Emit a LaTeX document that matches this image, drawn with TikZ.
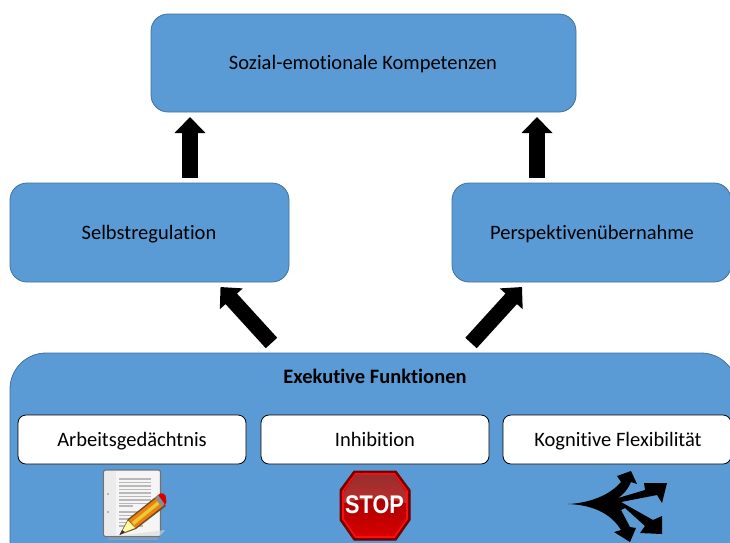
\documentclass[tikz,border=0pt]{standalone}
\usepackage{fontspec}
\setmainfont[RawFeature={-liga;-clig}]{Carlito}
\newfontfamily\stopfont{Liberation Sans}
\usetikzlibrary{arrows.meta,shapes.geometric}
\definecolor{boxblue}{HTML}{5B9BD5}
\definecolor{boxedge}{HTML}{41719C}
\tikzset{
  x=1pt,y=-1pt,
  bluebox/.style={draw=boxedge,fill=boxblue,line width=0.8pt,rounded corners=17pt},
  whitebox/.style={draw=black,fill=white,line width=0.8pt,rounded corners=8pt},
  lbl/.style={font=\fontsize{20.5}{24}\selectfont,text=black,inner sep=0pt,text height=13pt,text depth=4pt},
  blockarrow/.style={draw=black,line width=15.5pt,-{Triangle[width=30pt,length=16pt]},shorten >=0pt},
}
\begin{document}
\begin{tikzpicture}
\path[use as bounding box] (0,0) rectangle (730,542);
\clip (0,0) rectangle (730,542);
\fill[white] (0,0) rectangle (730,542);
% boxes
\draw[bluebox] (151,14) rectangle (576,112);
\draw[bluebox] (10,183) rectangle (289,282);
\draw[bluebox] (452,183) rectangle (731,282);
\draw[bluebox,rounded corners=36pt] (10,353) rectangle (737,580);
\draw[whitebox] (18,415) rectangle (246,464);
\draw[whitebox] (261,415) rectangle (489,464);
\draw[whitebox] (503,415) rectangle (731,464);
% labels
\node[lbl] (top) at (363,65.2) {Sozial-emotionale Kompetenzen};
\node[lbl] (selbst) at (149,235) {Selbstregulation};
\node[lbl] (persp) at (592,235) {Perspektivenübernahme};
\node[lbl,font=\fontsize{20.5}{24}\selectfont\bfseries] (exec) at (375,379.2) {Exekutive Funktionen};
\node[lbl] (arb) at (132,442) {Arbeitsgedächtnis};
\node[lbl] (inh) at (375,442) {Inhibition};
\node[lbl] (kog) at (618,442) {Kognitive Flexibilität};
% arrows
\coordinate (a1s) at (190,177.5); \coordinate (a1e) at (190,117);
\coordinate (a2s) at (537,177.5); \coordinate (a2e) at (537,117);
\coordinate (a3s) at (271.5,343); \coordinate (a3e) at (220.5,287);
\coordinate (a4s) at (471,343); \coordinate (a4e) at (522,287);
\draw[blockarrow] (a1s) -- (a1e);
\draw[blockarrow] (a2s) -- (a2e);
\draw[blockarrow] (a3s) -- (a3e);
\draw[blockarrow] (a4s) -- (a4e);
% document icon
\fill[black!35,opacity=.5] (108,537) rectangle (158,540);
\draw[draw=black!55,line width=1.2pt,fill=white!96!black,rounded corners=2pt] (103.5,470) rectangle (160.5,536.5);
\fill[black!8] (105,471) rectangle (116,535);
\fill[black!50] (108,494) circle (0.9pt) (108,512) circle (0.9pt);
\foreach \yy in {479,482.5,486,489.5,493,496.5,500,503.5}{\draw[black!28,line width=1.2pt] (119,\yy) -- (151,\yy);}
\draw[black!28,line width=1.2pt] (119,506) -- (133,506);
\foreach \yy in {512,515.5,519,522.5,526}{\draw[black!28,line width=1.2pt] (119,\yy) -- (143,\yy);}
% pencil
\fill[black!15,opacity=.6] (125,535) -- (165,530) -- (160,536) -- cycle;
\fill[brown!60!black] (119.5,535) -- (128,519) -- (158,495) -- (166,506) -- (136,529) -- cycle;
\fill[orange!70!brown] (129,520) -- (158,497) -- (164,505) -- (135,528) -- cycle;
\fill[yellow!60!brown] (132,522) -- (160,499.5) -- (162,502) -- (134,525) -- cycle;
\fill[yellow!35!white] (121,533.5) -- (128,520.5) -- (135,528) -- cycle;
\fill[black!80] (119.5,535) -- (122,530) -- (125,532) -- cycle;
\fill[red!85!black] (158,495) .. controls (161,491) and (167,494) .. (166,499) .. controls (167,502) and (166,505) .. (164,505) -- cycle;
\fill[black!45] (155,497.5) -- (158,495) -- (164.5,504) -- (161,506.5) -- cycle;
% stop sign
\draw[draw=red!45!black,fill=red!45!black,line width=1pt] (354,471) -- (396,471) -- (410,490) -- (410,520) -- (396,540) -- (354,540) -- (340,520) -- (340,490) -- cycle;
\draw[draw=red!95!white,line width=1.6pt,top color=red!50!black,bottom color=red!85!black,middle color=red!70!black] (355.5,474) -- (394.5,474) -- (407,491) -- (407,519) -- (394.5,537) -- (355.5,537) -- (343,519) -- (343,491) -- cycle;
\fill[white,opacity=.18] (344,492) -- (356,475) -- (394,475) -- (406,492) -- (406,503) .. controls (385,498) and (365,498) .. (344,503) -- cycle;
\node[inner sep=0pt,text=white,font=\stopfont\bfseries\fontsize{25.5}{28}\selectfont,xscale=.85] (stopsign) at (374.5,505) {STOP};
% split arrow icon
\fill[black] (568,504)
  .. controls (590,503) and (610,495) .. (621,482)
  -- (617,476) -- (631,471) -- (637,484) -- (631,482)
  .. controls (628,489) and (624,494) .. (618,498)
  -- (645,490) -- (644,483) -- (667,483) -- (662,503) -- (657,495)
  -- (621,502)
  -- (653,520) -- (662,516) -- (662,534) -- (640,533) -- (645,526)
  -- (625,508)
  -- (621,510)
  -- (630,527) -- (636,528) -- (630,542) -- (614,532) -- (621,530)
  .. controls (612,515) and (595,505) .. (568,504) -- cycle;
\end{tikzpicture}
\end{document}
